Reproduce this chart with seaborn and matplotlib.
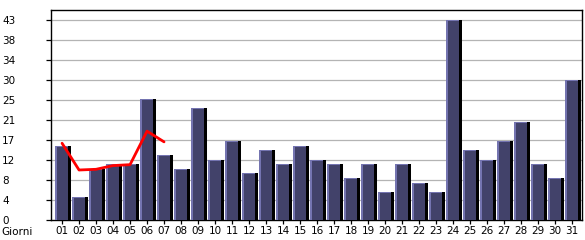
import numpy as np
import pandas as pd
import matplotlib
matplotlib.use("Agg")
import matplotlib.pyplot as plt
import seaborn as sns

days = [f"{i:02d}" for i in range(1, 32)]
visits = [16, 5, 11, 12, 12, 26, 14, 11, 24, 13, 17, 10, 15, 12, 16, 13,
          12, 9, 12, 6, 12, 8, 6, 43, 15, 13, 17, 21, 12, 9, 30]
trend_days = ["01", "02", "03", "04", "05", "06", "07"]
trend = [16.5, 10.75, 10.9, 11.7, 11.9, 19.1, 16.8]
ymax_val = 43
ytick_labels = ["0", "4", "8", "12", "17", "21", "25", "30", "34", "38", "43"]

sns.set_theme(style="white")
plt.rcParams["font.family"] = ["DejaVu Sans"]

W, H = 585, 240
fig = plt.figure(figsize=(W / 100, H / 100), dpi=100)
left_px, right_px, top_px, bot_px = 50.5, 582, 10, 220
ax = fig.add_axes([left_px / W, 1 - bot_px / H, (right_px - left_px) / W, (bot_px - top_px) / H])

pxx = 1 / 17.0  # data units per px horizontally
pxy = ymax_val / 200.0  # data units per px vertically

df = pd.DataFrame({"day": days, "visits": visits})
df["pos"] = np.arange(len(days))

# shadow
ax.bar(df["pos"] + 6 * pxx, df["visits"], width=3 * pxx, align="edge",
       color="#000000", linewidth=0, zorder=2)
# highlight
ax.bar(df["pos"] - 7 * pxx, df["visits"], width=13 * pxx, align="edge",
       color="#7474b0", linewidth=0, zorder=3)
# main body
sns.barplot(x=df["pos"] + 0.5 * pxx, y=df["visits"] - pxy, native_scale=True,
            width=11 * pxx, color="#42426a", saturation=1, linewidth=0,
            ax=ax, zorder=4)

tpos = [days.index(d) for d in trend_days]
sns.lineplot(x=tpos, y=trend, color="#ff0000", linewidth=2.0, ax=ax, zorder=5)

ax.set_xlim(-0.68, 30.59)
ax.set_ylim(0, ymax_val * 210 / 200)
yt = np.linspace(0, ymax_val, 11)
ax.set_yticks(yt)
ax.set_yticklabels(ytick_labels)
ax.set_xticks(np.arange(len(days)))
ax.set_xticklabels(days)
ax.set_xlabel("")
ax.set_ylabel("")

for y in yt[1:]:
    ax.axhline(y, color="#b4b4b4", linewidth=0.9, zorder=1)

for s in ax.spines.values():
    s.set_visible(True)
    s.set_color("black")
    s.set_linewidth(1.0)

fs = 7.5
ax.tick_params(axis="x", direction="out", length=3, width=0.9, color="black",
               pad=1.5, labelsize=fs, labelcolor="black", bottom=True)
ax.tick_params(axis="y", direction="out", length=3.6, width=0.9, color="black",
               pad=31.3, labelsize=fs, labelcolor="black", left=True)
for lab in ax.get_yticklabels():
    lab.set_horizontalalignment("left")
    lab.set_verticalalignment("center_baseline")

fig.text(1 / W, 1 - 235 / H, "Giorni", fontsize=fs, va="baseline", ha="left", color="black")

fig.savefig("out.png", dpi=100)
